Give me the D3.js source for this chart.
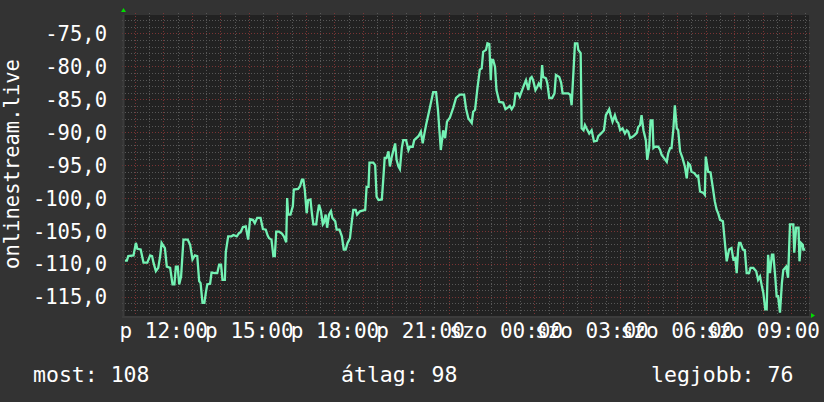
<!DOCTYPE html>
<html><head><meta charset="utf-8">
<script src="https://cdn.jsdelivr.net/npm/d3@7"></script>
<style>html,body{margin:0;padding:0;background:#333333;} svg{display:block}</style>
</head><body>
<svg id="chart" width="824" height="402"></svg>
<script>
// ---- data ----
const minutesFromStart = [
2,6,9,20,25,28,35,41,49,55,
59,62,67,72,76,79,86,90,97,102,
106,109,113,116,120,125,134,139,144,149,
154,158,161,165,169,172,175,181,184,191,
196,200,204,207,212,214,219,226,230,237,
242,245,250,256,261,263,265,271,275,280,
287,292,298,302,305,310,314,317,320,326,
332,336,341,343,345,350,355,357,366,370,
374,377,380,384,387,392,395,398,404,407,
410,414,418,420,424,427,431,435,438,444,
447,453,458,462,466,470,475,479,482,487,
490,496,507,510,514,516,524,528,531,535,
542,545,548,552,556,559,563,570,573,577,
580,584,587,593,598,601,607,610,619,624,
628,631,635,643,650,656,660,666,671,675,
679,685,692,698,
706,715,719,724,731,734,738,743,748,752,
755,761,764,768,771,773,776,780,783,789,
797,802,808,811,815,820,823,829,832,836,
841,845,850,854,857,860,865,869,872,876,
879,881,887,890,894,900,905,908,915,919,
922,934,938,941,945,948,953,955,960,962,
966,969,973,978,983,988,994,997,1004,1009,
1013,1020,1023,1027,1032,1036,1039,1043,1048,1053,
1057,1060,1064,1069,1074,1078,1081,1085,1088,1092,
1097,1100,1104,1107,1111,1113,1116,1123,1127,1130,
1135,1141,1144,1148,1151,1155,1158,1162,1165,1169,
1174,1179,1183,1186,1190,1193,1199,1204,1207,1211,
1218,1221,1223,1228,1233,1238,1242,1246,1249,1253,
1259,1263,1267,1272,1277,1281,1285,1288,1291,1293,
1296,1301,1305,1309,1314,1317,1323,1329,1333,1337,
1341,1344,1348,1351,1354,1358,1362,1365,1369,1372,
1375,1379,1383,1386,1392,1396,1400,1407,1409,1413,
1418,1420,1423,1427,1428,1432
];
const signalValues = [
-109.5,-109.5,-108.8,-108.7,-106.8,-107.7,-107.8,-109.8,-109.8,-108.7,
-108.8,-109.8,-111.1,-110.6,-108.8,-106.8,-107.6,-110.4,-110.6,-113.1,
-113.1,-110.4,-110.4,-113.1,-111.9,-106.3,-106.3,-107.1,-109.3,-108.7,
-108.8,-112.6,-112.9,-115.9,-115.9,-114.4,-113.1,-113.0,-111.3,-111.4,
-111.4,-110.1,-110.1,-112.4,-112.4,-108.2,-105.8,-105.8,-105.6,-105.8,
-105.3,-105.2,-104.4,-104.3,-106.3,-104.8,-103.2,-103.3,-103.8,-103.0,
-103.0,-104.7,-104.8,-105.7,-106.1,-106.3,-108.8,-108.8,-105.1,-105.1,
-105.4,-105.8,-106.7,-100.0,-102.5,-102.5,-101.2,-98.7,-98.6,-98.2,
-97.2,-97.2,-98.7,-102.3,-100.3,-100.2,-102.3,-104.0,-104.0,-102.3,
-101.0,-102.0,-104.0,-103.8,-102.5,-104.5,-102.5,-102.0,-103.0,-103.5,
-104.8,-104.8,-105.8,-107.8,-107.8,-106.8,-106.1,-103.5,-101.8,-101.8,
-102.5,-102.0,-101.8,-98.3,-98.3,-94.6,-94.6,-95.0,-99.8,-100.3,
-100.2,-97.2,-93.9,-93.9,-92.9,-95.2,-93.7,-91.7,-94.2,-95.2,
-95.6,-92.4,-91.2,-91.2,-92.7,-92.2,-92.2,-91.2,-90.6,-89.9,
-91.7,-90.4,-88.9,-86.3,-83.9,-83.9,-86.6,-92.7,-89.7,-90.9,
-88.4,-87.8,-86.3,-84.8,
-84.3,-84.3,-86.4,-87.9,-88.6,-86.9,-86.6,-83.3,-80.5,-80.3,
-77.8,-77.5,-76.5,-76.6,-82.1,-79.0,-79.0,-80.1,-83.6,-85.4,
-85.5,-86.5,-86.2,-86.0,-86.5,-85.9,-84.1,-84.1,-84.6,-83.8,
-82.8,-82.1,-83.6,-81.8,-81.6,-82.1,-83.6,-83.1,-82.6,-83.1,
-79.8,-81.6,-81.8,-82.6,-84.8,-84.8,-84.1,-81.3,-81.6,-82.5,
-84.1,-84.1,-84.3,-85.9,-80.6,-76.5,-76.5,-77.5,-78.0,-89.4,
-89.7,-88.9,-89.5,-90.2,-89.7,-91.4,-91.3,-90.6,-90.1,-89.7,
-87.4,-86.5,-87.4,-88.4,-87.4,-88.4,-88.6,-89.7,-89.4,-90.2,
-89.7,-89.9,-90.9,-90.7,-90.4,-90.1,-89.2,-88.9,-87.4,-89.7,
-91.2,-94.2,-92.4,-88.2,-88.2,-92.4,-92.2,-92.2,-92.7,-93.4,
-93.9,-94.5,-93.2,-92.4,-92.4,-89.4,-85.9,-89.4,-89.7,-92.9,
-93.9,-95.2,-97.0,-94.7,-95.0,-96.0,-96.2,-96.7,-96.6,-99.0,
-99.2,-99.5,-93.7,-96.0,-96.1,-98.5,-100.5,-101.8,-102.3,-103.3,
-103.5,-106.6,-109.6,-107.8,-107.6,-109.3,-109.1,-111.4,-107.8,-106.8,
-106.8,-107.8,-107.9,-111.4,-111.4,-110.6,-110.6,-111.1,-112.4,-111.9,
-113.4,-114.4,-116.9,-116.9,-108.6,-111.4,-108.6,-108.6,-111.9,-114.9,
-114.9,-117.4,-112.9,-110.9,-110.4,-112.1,-104.0,-104.0,-108.3,-104.5,
-104.5,-109.6,-106.8,-107.1,-107.8,-107.8
];
const yTickValues = [-75,-80,-85,-90,-95,-100,-105,-110,-115];
const yTickLabels = ["-75,0","-80,0","-85,0","-90,0","-95,0","-100,0","-105,0","-110,0","-115,0"];
const xTickHours = [12,15,18,21,24,27,30,33];   // hours since Friday 00:00
const xTickLabels = ["p 12:00","p 15:00","p 18:00","p 21:00","szo 00:00","szo 03:00","szo 06:00","szo 09:00"];
const yAxisTitle = "onlinestream.live";
const legendTexts = ["most: 108","átlag: 98","legjobb: 76"];
const yDomain = [-117.9, -72.2];
const startTime = new Date(2024, 2, 1, 10, 37, 30);   // péntek
const spanHours = 24;

// ---- layout ----
const svg = d3.select("#chart");
const W = 824, H = 402;
const L = 124, R = 809, T = 15, B = 316;
const FONT = "'DejaVu Sans Mono', monospace";
const FS = 20.5, FSX = 21;

const endTime = d3.timeHour.offset(startTime, spanHours);
const day0 = d3.timeDay.floor(startTime);
const x = d3.scaleTime().domain([startTime, endTime]).range([L, R]);
const y = d3.scaleLinear().domain(yDomain).range([B, T]);

svg.append("rect").attr("width", W).attr("height", H).attr("fill", "#333333");
svg.append("rect").attr("x", L - 1).attr("y", T).attr("width", R - L + 1).attr("height", B - T)
  .attr("fill", "#222222");

// grid
const g = svg.append("g");
const GRAY = "#575757", RED = "#7a3434", DASH = "1,2";
const minorH = d3.range(Math.ceil(yDomain[0]), Math.floor(yDomain[1]) + 1);
g.selectAll("line.hmin").data(minorH.filter(v => v % 5 !== 0)).join("line")
  .attr("x1", L - 2).attr("x2", R + 2).attr("y1", d => Math.round(y(d)) + 0.5).attr("y2", d => Math.round(y(d)) + 0.5)
  .attr("stroke", GRAY).attr("stroke-dasharray", DASH);
const minorV = d3.timeMinute.every(30).range(startTime, endTime);
g.selectAll("line.vmin").data(minorV.filter(d => d.getMinutes() !== 0)).join("line")
  .attr("y1", T - 2).attr("y2", B + 2).attr("x1", d => Math.round(x(d)) + 0.5).attr("x2", d => Math.round(x(d)) + 0.5)
  .attr("stroke", GRAY).attr("stroke-dasharray", DASH);
g.selectAll("line.hmaj").data(minorH.filter(v => v % 5 === 0)).join("line")
  .attr("x1", L - 2).attr("x2", R + 2).attr("y1", d => Math.round(y(d)) + 0.5).attr("y2", d => Math.round(y(d)) + 0.5)
  .attr("stroke", RED).attr("stroke-dasharray", DASH);
g.selectAll("line.vmaj").data(d3.timeHour.every(1).range(startTime, endTime)).join("line")
  .attr("y1", T - 2).attr("y2", B + 2).attr("x1", d => Math.round(x(d)) + 0.5).attr("x2", d => Math.round(x(d)) + 0.5)
  .attr("stroke", RED).attr("stroke-dasharray", DASH);

// axis lines
svg.append("line").attr("x1", L - 0.5).attr("x2", L - 0.5).attr("y1", T).attr("y2", B + 2).attr("stroke", "#3c3c3c").attr("stroke-width", 2);
svg.append("line").attr("x1", L - 2).attr("x2", R + 2).attr("y1", B + 1).attr("y2", B + 1).attr("stroke", "#3c3c3c").attr("stroke-width", 2);

// arrows
svg.append("path").attr("d", `M${L - 3},${T - 3}L${L + 2},${T - 3}L${L - 0.5},${T - 7}Z`).attr("fill", "#00dd00");
svg.append("path").attr("d", `M${R + 2},${B - 3}L${R + 2},${B + 2}L${R + 6},${B - 0.5}Z`).attr("fill", "#00dd00");

// line
const pts = minutesFromStart.map((m, i) => [d3.timeMinute.offset(startTime, m), signalValues[i]]);
svg.append("path").datum(pts)
  .attr("d", d3.line().x(d => x(d[0])).y(d => y(d[1])))
  .attr("fill", "none").attr("stroke", "#74f2b4").attr("stroke-width", 2.3).attr("stroke-linejoin", "miter");

// y axis
const yAxis = d3.axisLeft(y).tickValues(yTickValues).tickFormat((d, i) => yTickLabels[i]).tickSize(0).tickPadding(17);
const gy = svg.append("g").attr("transform", `translate(${L},0)`).call(yAxis);
gy.select(".domain").remove();
gy.selectAll("text").attr("fill", "#ffffff").attr("font-family", FONT).attr("font-size", FS).attr("dy", "0.34em");

// x axis
const xTickDates = xTickHours.map(h => d3.timeHour.offset(day0, h));
const xAxis = d3.axisBottom(x).tickValues(xTickDates).tickFormat((d, i) => xTickLabels[i]).tickSize(0);
const gx = svg.append("g").attr("transform", `translate(0,${B})`).call(xAxis);
gx.select(".domain").remove();
gx.selectAll("text").attr("fill", "#ffffff").attr("font-family", FONT).attr("font-size", FSX).attr("y", 22).attr("dy", 0);

// y title
svg.append("text").attr("transform", "translate(18.5,164) rotate(-90)")
  .attr("text-anchor", "middle").attr("fill", "#ffffff").attr("font-family", FONT).attr("font-size", FS)
  .text(yAxisTitle);

// legend
const legendX = [33, 341, 651];
svg.selectAll("text.leg").data(legendTexts).join("text").attr("class", "leg")
  .attr("x", (d, i) => legendX[i]).attr("y", 382)
  .attr("fill", "#ffffff").attr("font-family", FONT).attr("font-size", 21.5)
  .text(d => d);
</script>
</body></html>
